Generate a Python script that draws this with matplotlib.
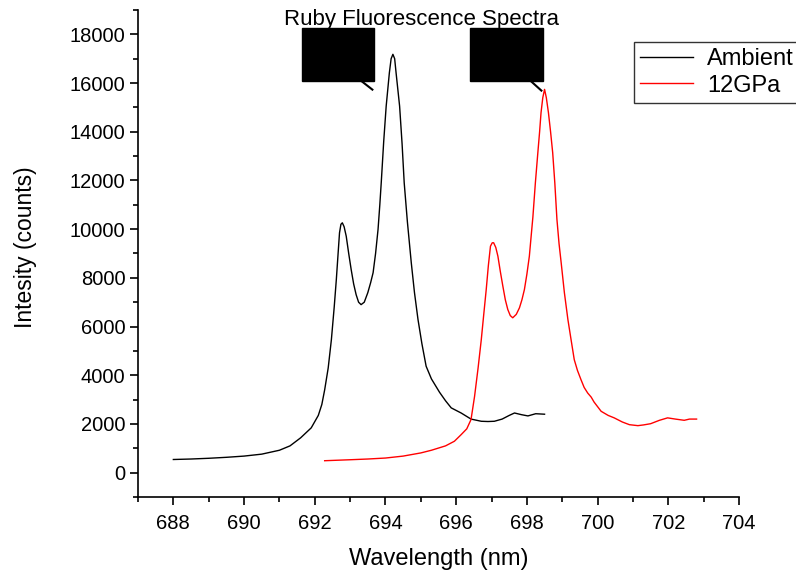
import numpy as np
import matplotlib
matplotlib.use("Agg")
import matplotlib.pyplot as plt
from matplotlib.patches import Rectangle
from matplotlib.ticker import MultipleLocator

plt.rcParams['font.family'] = ['Liberation Sans', 'DejaVu Sans']

# ambient spectrum
amb_wl = [688.0, 688.5, 689.0, 689.5, 690.0, 690.5, 691.0, 691.3, 691.6, 691.9,
          692.1, 692.2, 692.28, 692.38, 692.47, 692.55, 692.61, 692.66, 692.70,
          692.74, 692.78, 692.83, 692.89, 692.96, 693.03, 693.10, 693.17, 693.24,
          693.31, 693.40, 693.50, 693.58, 693.65, 693.72, 693.79, 693.84, 693.88,
          693.95, 694.02, 694.11, 694.16, 694.21, 694.26, 694.30, 694.40, 694.47,
          694.53, 694.62, 694.73, 694.82, 694.92, 695.03, 695.15, 695.30, 695.53,
          695.70, 695.86, 696.14, 696.42, 696.71, 696.90, 697.08, 697.30, 697.50,
          697.65, 697.85, 698.03, 698.25, 698.50]
amb_int = [540, 560, 590, 630, 680, 760, 920, 1100, 1430, 1840,
           2350, 2800, 3400, 4300, 5460, 6800, 7930, 9000, 9850,
           10200, 10260, 10100, 9710, 9000, 8340, 7750, 7310, 7000,
           6900, 7000, 7390, 7800, 8210, 9000, 9990, 11000, 11900,
           13600, 15050, 16420, 17000, 17180, 17000, 16420, 15050, 13500,
           11900, 10300, 8620, 7400, 6290, 5300, 4370, 3850, 3300,
           2950, 2660, 2450, 2200, 2110, 2100, 2110, 2200, 2350,
           2450, 2380, 2330, 2420, 2400]

# 12 GPa spectrum
gpa_wl = [692.28, 693.0, 693.5, 694.0, 694.5, 695.0, 695.3, 695.7, 695.95, 696.14,
          696.30, 696.42, 696.52, 696.62, 696.71, 696.78, 696.85, 696.91, 696.97,
          697.02, 697.06, 697.12, 697.18, 697.25, 697.32, 697.39, 697.46, 697.53,
          697.60, 697.70, 697.79, 697.86, 697.93, 698.00, 698.07, 698.12, 698.17,
          698.24, 698.31, 698.36, 698.40, 698.45, 698.50, 698.55, 698.61, 698.67,
          698.73, 698.79, 698.85, 698.91, 698.97, 699.06, 699.16, 699.25, 699.34,
          699.43, 699.53, 699.62, 699.72, 699.82, 699.90, 700.10, 700.30, 700.47,
          700.70, 700.90, 701.14, 701.30, 701.50, 701.75, 701.98, 702.20, 702.45,
          702.60, 702.80]
gpa_int = [490, 530, 560, 600, 680, 810, 920, 1100, 1290, 1560,
           1800, 2180, 3130, 4300, 5460, 6500, 7520, 8500, 9300,
           9440, 9440, 9250, 8890, 8250, 7660, 7100, 6700, 6450,
           6360, 6500, 6770, 7100, 7520, 8150, 8890, 9700, 10500,
           11900, 13140, 14000, 14780, 15400, 15740, 15400, 14780, 14000,
           13140, 11900, 10400, 9400, 8620, 7400, 6290, 5460, 4640,
           4200, 3820, 3500, 3270, 3100, 2900, 2520, 2350, 2250,
           2080, 1970, 1930, 1960, 2010, 2150, 2250, 2200, 2150,
           2200, 2200]

fig = plt.figure(figsize=(7.96, 5.76), dpi=100)
ax = fig.add_axes([138 / 796, 1 - 497 / 576, 601 / 796, 487 / 576])

ax.plot(amb_wl, amb_int, color='black', lw=1.0, label='Ambient')
ax.plot(gpa_wl, gpa_int, color='red', lw=1.0, label='12GPa')

ax.set_xlim(687, 704)
ax.set_ylim(-1000, 19000)
ax.xaxis.set_major_locator(MultipleLocator(2))
ax.xaxis.set_minor_locator(MultipleLocator(1))
ax.yaxis.set_major_locator(MultipleLocator(2000))
ax.yaxis.set_minor_locator(MultipleLocator(1000))
ax.spines['top'].set_visible(False)
ax.spines['right'].set_visible(False)
for s in ('left', 'bottom'):
    ax.spines[s].set_linewidth(1.2)
ax.tick_params(which='major', direction='out', length=6, width=1.2, labelsize=14.5, pad=3)
ax.tick_params(axis='x', which='major', pad=6)
ax.tick_params(which='minor', direction='out', length=3.5, width=1.2)

ax.set_xlabel('Wavelength (nm)', fontsize=17, labelpad=11)
ax.set_ylabel('Intesity (counts)', fontsize=16.5)
ax.yaxis.set_label_coords(-0.168, 0.512)

fig.text(422 / 796, 1 - 25 / 576, 'Ruby Fluorescence Spectra', fontsize=16,
         ha='center', va='baseline')

# the two blacked-out peak labels
for (x0, x1), (lx0, ly0, lx1, ly1) in [((691.63, 693.67), (693.33, 16070, 693.63, 15730)),
                                       ((696.40, 698.45), (698.12, 16070, 698.41, 15690))]:
    ax.add_patch(Rectangle((x0, 16070), x1 - x0, 2190, facecolor='black',
                           edgecolor='black', clip_on=False))
    ax.plot([lx0, lx1], [ly0, ly1], color='black', lw=1.5)

leg = ax.legend(loc='upper left', bbox_to_anchor=(634 / 796, 1 - 42 / 576),
                bbox_transform=fig.transFigure, borderaxespad=0, fontsize=17,
                frameon=True, fancybox=False, handlelength=2.25,
                handletextpad=0.6, labelspacing=0.2, borderpad=0.25)
leg.get_frame().set_edgecolor('black')
leg.get_frame().set_linewidth(1.0)

fig.savefig('out.png', dpi=100)
